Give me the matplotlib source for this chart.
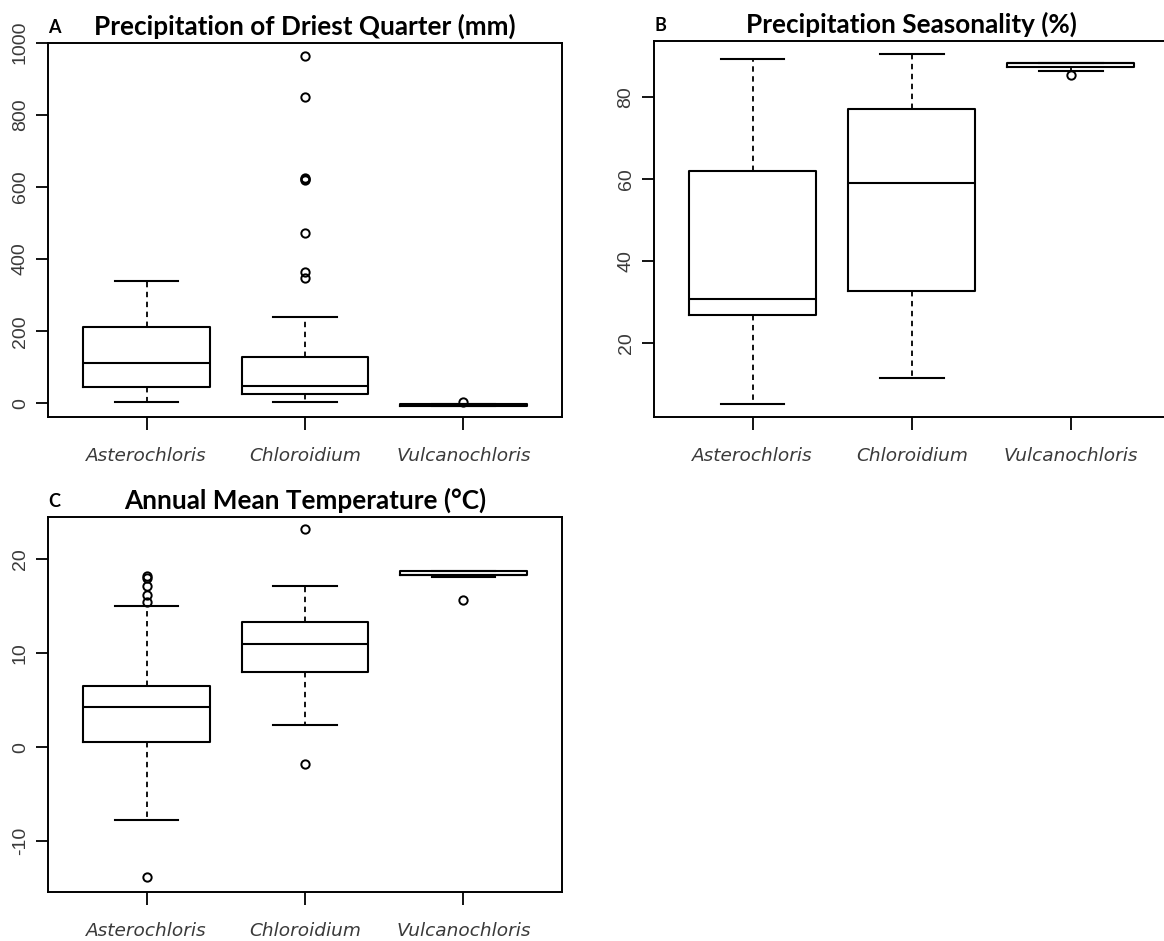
import matplotlib.pyplot as plt

plt.rcParams["axes.unicode_minus"] = False

# genera on the x axis of every panel
genera = ["Asterochloris", "Chloroidium", "Vulcanochloris"]

# A: precipitation of driest quarter (mm), box summaries
pdq_whislo = [4, 4, -6]
pdq_q1 = [44, 27, -6]
pdq_med = [111, 49, -4]
pdq_q3 = [211, 128, -3]
pdq_whishi = [339, 240, -3]
pdq_fliers = [[], [963, 849, 618, 621, 624, 472, 365, 348], [4]]

# B: precipitation seasonality (%)
ps_whislo = [5.3, 11.6, 86.5]
ps_q1 = [26.9, 32.7, 87.3]
ps_med = [30.7, 59.0, 88.4]
ps_q3 = [61.9, 77.1, 88.4]
ps_whishi = [89.3, 90.5, 88.4]
ps_fliers = [[], [], [85.4]]

# C: annual mean temperature (deg C)
amt_whislo = [-7.8, 2.4, 18.1]
amt_q1 = [0.5, 8.0, 18.35]
amt_med = [4.3, 11.0, 18.35]
amt_q3 = [6.5, 13.3, 18.8]
amt_whishi = [15.0, 17.1, 18.8]
amt_fliers = [[18.0, 18.2, 17.1, 16.2, 15.5, -13.8], [23.2, -1.8], [15.7]]


def draw_panel(ax, letter, title, whislo, q1, med, q3, whishi, fliers, ylim, yticks):
    stats = []
    for i, g in enumerate(genera):
        stats.append(dict(label=g, whislo=whislo[i], q1=q1[i], med=med[i],
                          q3=q3[i], whishi=whishi[i], fliers=fliers[i]))
    ax.bxp(stats, positions=[1, 2, 3], widths=0.8, capwidths=0.4,
           boxprops=dict(color="black", lw=1.5),
           medianprops=dict(color="black", lw=1.5),
           whiskerprops=dict(color="black", lw=1.3, linestyle=(0, (3, 2.5))),
           capprops=dict(color="black", lw=1.5),
           flierprops=dict(marker="o", mfc="none", mec="black", ms=6, mew=1.4))
    ax.set_xlim(0.38, 3.62)
    ax.set_ylim(*ylim)
    ax.set_yticks(yticks)
    for s in ax.spines.values():
        s.set_linewidth(1.4)
    ax.tick_params(axis="both", length=9, width=1.3, color="black")
    ax.tick_params(axis="y", pad=5)
    ax.tick_params(axis="x", pad=12.5)
    for lab in ax.get_yticklabels():
        lab.set_rotation(90)
        lab.set_va("center")
        lab.set_family("Liberation Sans")
        lab.set_fontsize(14)
        lab.set_color("#3a3a3a")
    for lab in ax.get_xticklabels():
        lab.set_family("DejaVu Sans")
        lab.set_style("oblique")
        lab.set_fontsize(13.3)
        lab.set_color("#3a3a3a")
    ax.set_title(title, family="Lato", fontweight="bold", fontsize=18.8, pad=6)
    ax.annotate(letter, xy=(0, 1), xycoords="axes fraction", xytext=(0, 7),
                textcoords="offset points", ha="left", va="baseline",
                family="Lato", fontweight="bold", fontsize=13)


fig = plt.figure(figsize=(11.64, 9.41), dpi=100)
ax_a = fig.add_axes([0.0415, 0.5565, 0.4411, 0.3981])
ax_b = fig.add_axes([0.5619, 0.5572, 0.4428, 0.3992])
ax_c = fig.add_axes([0.0415, 0.0524, 0.4411, 0.3982])

draw_panel(ax_a, "A", "Precipitation of Driest Quarter (mm)",
           pdq_whislo, pdq_q1, pdq_med, pdq_q3, pdq_whishi, pdq_fliers,
           (-38.8, 1000), [0, 200, 400, 600, 800, 1000])
draw_panel(ax_b, "B", "Precipitation Seasonality (%)",
           ps_whislo, ps_q1, ps_med, ps_q3, ps_whishi, ps_fliers,
           (2.1, 93.7), [20, 40, 60, 80])
draw_panel(ax_c, "C", "Annual Mean Temperature (°C)",
           amt_whislo, amt_q1, amt_med, amt_q3, amt_whishi, amt_fliers,
           (-15.4, 24.5), [-10, 0, 10, 20])

fig.savefig("out.png", dpi=100)
